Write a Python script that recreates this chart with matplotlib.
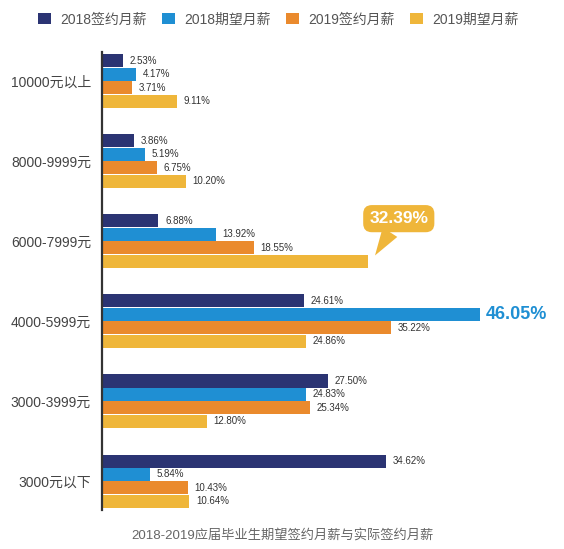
import numpy as np
import matplotlib.pyplot as plt

plt.rcParams['font.family'] = ['Liberation Sans', 'Noto Sans CJK SC', 'DejaVu Sans']

categories = ['10000元以上', '8000-9999元', '6000-7999元', '4000-5999元', '3000-3999元', '3000元以下']
series_names = ['2018签约月薪', '2018期望月薪', '2019签约月薪', '2019期望月薪']
sign_2018 = [2.53, 3.86, 6.88, 24.61, 27.50, 34.62]
expect_2018 = [4.17, 5.19, 13.92, 46.05, 24.83, 5.84]
sign_2019 = [3.71, 6.75, 18.55, 35.22, 25.34, 10.43]
expect_2019 = [9.11, 10.20, 32.39, 24.86, 12.80, 10.64]
colors = ['#2b3473', '#1f8fd3', '#ea8a2d', '#efb63a']
caption = '2018-2019应届毕业生期望签约月薪与实际签约月薪'

series = [sign_2018, expect_2018, sign_2019, expect_2019]
fig = plt.figure(figsize=(5.64, 5.49), dpi=100)
ax = fig.add_axes([0.181, 0.071, 0.814, 0.834])

h = 0.168
y = np.arange(len(categories))
for i, (vals, col, name) in enumerate(zip(series, colors, series_names)):
    ypos = y + (i - 1.5) * h
    ax.barh(ypos, vals, height=h * 0.97, color=col, label=name)
    for yy, v in zip(ypos, vals):
        if (i == 1 and v == max(expect_2018)) or (i == 3 and v == 32.39):
            continue
        ax.text(v + 0.8, yy, f'{v:.2f}%', va='center', ha='left',
                fontsize=7, color='#333333')

# highlight: 46.05%
hi = int(np.argmax(expect_2018))
ax.text(expect_2018[hi] + 0.8, y[hi] - 0.5 * h, f'{expect_2018[hi]:.2f}%',
        va='center', ha='left', fontsize=13, fontweight='bold', color='#1f8fd3')

# callout bubble: 32.39%
ci = 2
ax.annotate(f'{expect_2019[ci]:.2f}%', xy=(expect_2019[ci] + 0.9, y[ci] + 0.18),
            xytext=(expect_2019[ci] + 3.8, y[ci] - 0.28),
            ha='center', va='center', fontsize=12.5, fontweight='bold', color='white',
            bbox=dict(boxstyle='round,pad=0.35,rounding_size=0.5', fc=colors[3], ec='none'),
            arrowprops=dict(arrowstyle='wedge,tail_width=1.0,shrink_factor=0.5',
                            fc=colors[3], ec='none', shrinkA=0, shrinkB=0))

ax.set_xlim(0, 56)
ax.set_ylim(5.36, -0.36)
ax.set_yticks(y)
ax.set_yticklabels(categories, fontsize=10, color='#444444')
ax.tick_params(axis='y', length=0, pad=8)
ax.set_xticks([])
for s in ['top', 'right', 'bottom']:
    ax.spines[s].set_visible(False)
ax.spines['left'].set_linewidth(1.6)
ax.spines['left'].set_color('#333333')

fig.legend(loc='upper center', ncol=4, bbox_to_anchor=(0.494, 1.0), frameon=False,
           fontsize=10, handlelength=0.9, handleheight=0.9, handletextpad=0.7,
           columnspacing=1.1, labelcolor='#555555')
fig.text(0.5, 0.013, caption, ha='center', va='bottom', fontsize=9.5, color='#666666')

fig.savefig('out.png', dpi=100, facecolor='white')
